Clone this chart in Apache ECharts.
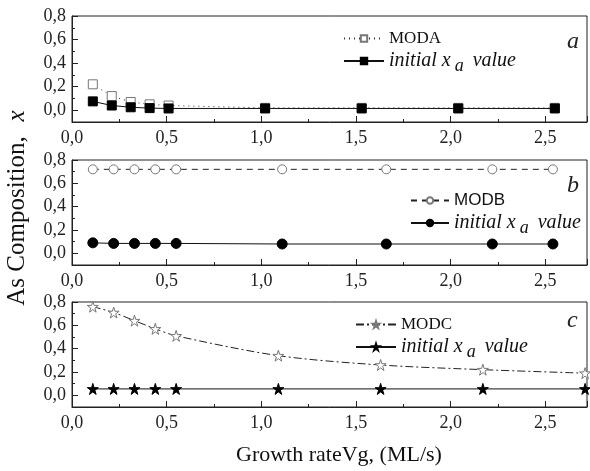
<!DOCTYPE html>
<html>
<head>
<meta charset="utf-8">
<script src="https://cdn.jsdelivr.net/npm/echarts@6/dist/echarts.min.js"></script>
<style>
    html, body { margin: 0; padding: 0; background: #fff; }
    #chart { width: 590px; height: 471px; }
</style>
</head>
<body>
<div id="chart"></div>
<script>
'use strict';

// panel a
var xA = [0.11, 0.21, 0.31, 0.41, 0.51, 1.02, 1.53, 2.04, 2.55];
var modaValues = [0.22, 0.12, 0.07, 0.05, 0.04, 0.02, 0.02, 0.02, 0.02];
var initAValues = [0.075, 0.04, 0.025, 0.018, 0.015, 0.015, 0.015, 0.015, 0.015];
// panel b
var xB = [0.11, 0.22, 0.33, 0.44, 0.55, 1.11, 1.66, 2.22, 2.54];
var modbValues = [0.72, 0.72, 0.72, 0.72, 0.72, 0.72, 0.72, 0.72, 0.72];
var initBValues = [0.09, 0.085, 0.085, 0.085, 0.085, 0.08, 0.08, 0.08, 0.08];
// panel c
var xC = [0.11, 0.22, 0.33, 0.44, 0.55, 1.09, 1.63, 2.17, 2.71];
var modcValues = [0.76, 0.71, 0.64, 0.57, 0.51, 0.34, 0.26, 0.22, 0.19];
var initCValues = [0.055, 0.055, 0.055, 0.055, 0.055, 0.055, 0.055, 0.055, 0.055];

var majorY = [0, 0.2, 0.4, 0.6, 0.8];

var serif = '"Liberation Serif", serif';
var star = 'path://M50,0 L61,35 L98,35 L68,57 L79,91 L50,70 L21,91 L32,57 L2,35 L39,35 Z';

function pairs(xs, ys) {
    var out = [];
    for (var i = 0; i < xs.length; i++) {
        out.push([xs[i], ys[i]]);
    }
    return out;
}

function comma(v) {
    return v.toFixed(1).replace('.', ',');
}

var grids = [
    {left: 72, right: 0, top: 16, height: 106},
    {left: 72, right: 0, top: 160, height: 105},
    {left: 72, right: 0, top: 302, height: 105}
];

var xAxes = [];
var yAxes = [];
for (var g = 0; g < 3; g++) {
    grids[g].show = true;
    grids[g].borderColor = '#222';
    grids[g].borderWidth = 1;
    xAxes.push({
        type: 'value',
        gridIndex: g,
        min: 0,
        max: 2.72,
        interval: 0.5,
        axisLine: {show: true, onZero: false, lineStyle: {color: '#222'}},
        axisTick: {show: true, inside: true, length: 6, lineStyle: {color: '#222'}},
        minorTick: {show: true, splitNumber: 2, length: 3, lineStyle: {color: '#222'}},
        splitLine: {show: false},
        axisLabel: {
            color: '#222',
            fontFamily: 'Liberation Serif',
            fontSize: 18,
            margin: 7,
            formatter: function (v) {
                var r = Math.round(v * 2) / 2;
                return Math.abs(r - v) < 1e-6 ? comma(v) : '';
            }
        }
    });
    // main y axis, ticks every 0.1
    yAxes.push({
        type: 'value',
        gridIndex: g,
        min: -0.1,
        max: 0.8,
        interval: 0.1,
        axisLine: {show: true, onZero: false, lineStyle: {color: '#222'}},
        axisTick: {show: true, inside: true, length: 3, lineStyle: {color: '#222'}},
        splitLine: {show: false},
        axisLabel: {
            color: '#222',
            fontFamily: 'Liberation Serif',
            fontSize: 18,
            margin: 6,
            formatter: function (v) {
                var k = Math.round(v * 10);
                return (k >= 0 && k % 2 === 0) ? comma(k / 10) : '';
            }
        }
    });
}
// longer ticks at the labelled values
for (var h = 0; h < 3; h++) {
    yAxes.push({
        type: 'value',
        gridIndex: h,
        min: -0.1,
        max: 0.8,
        position: 'left',
        axisLine: {show: false},
        axisTick: {show: true, inside: true, length: 6, customValues: majorY, lineStyle: {color: '#222'}},
        axisLabel: {show: false},
        splitLine: {show: false}
    });
}

function initLabel() {
    return '{i|initial x}{s|a}{i| value}';
}

var initRich = {
    i: {fontFamily: 'Liberation Serif', fontStyle: 'italic', fontSize: 20, color: '#111'},
    s: {fontFamily: 'Liberation Serif', fontStyle: 'italic', fontSize: 18, color: '#111', padding: [10, 4, 0, 4]}
};

var openStyle = {color: '#fff', borderColor: '#777', borderWidth: 1};
var fillStyle = {color: '#000', borderColor: '#000', borderWidth: 1};

function makeLegend(names, left, top, width, modFont) {
    return {
        data: names,
        orient: 'vertical',
        left: left,
        top: top,
        itemWidth: width,
        itemHeight: 8,
        itemGap: 4,
        formatter: function (name) {
            return name.indexOf('MOD') === 0 ? '{m|' + name + '}' : initLabel();
        },
        textStyle: {
            rich: {
                m: {fontFamily: modFont, fontSize: 17, color: '#111'},
                i: initRich.i,
                s: initRich.s
            }
        }
    };
}

var option = {
    animation: false,
    backgroundColor: '#fff',
    grid: grids,
    xAxis: xAxes,
    yAxis: yAxes,
    legend: [
        makeLegend(['MODA', 'initA'], 338, 25, 40, 'Liberation Serif'),
        makeLegend(['MODB', 'initB'], 405, 187, 38, 'Liberation Sans'),
        makeLegend(['MODC', 'initC'], 350, 311, 40, 'Liberation Serif')
    ],
    graphic: [
        {type: 'text', left: 567, top: 30, style: {text: 'a', font: 'italic 24px ' + serif, fill: '#222'}},
        {type: 'text', left: 567, top: 174, style: {text: 'b', font: 'italic 24px ' + serif, fill: '#222'}},
        {type: 'text', left: 567, top: 309, style: {text: 'c', font: 'italic 24px ' + serif, fill: '#222'}},
        {
            type: 'text',
            x: 5,
            y: 221,
            rotation: Math.PI / 2,
            style: {
                text: 'As Composition,',
                font: '25px ' + serif,
                fill: '#111',
                align: 'center',
                verticalAlign: 'top'
            }
        },
        {
            type: 'text',
            x: 5,
            y: 116,
            rotation: Math.PI / 2,
            style: {
                text: 'x',
                font: 'italic 25px ' + serif,
                fill: '#111',
                align: 'center',
                verticalAlign: 'top'
            }
        },
        {
            type: 'text',
            left: 236,
            top: 444,
            style: {text: 'Growth rateVg, (ML/s)', font: '22px ' + serif, fill: '#111'}
        }
    ],
    series: [
        {
            name: 'MODA', type: 'line', xAxisIndex: 0, yAxisIndex: 0,
            data: pairs(xA, modaValues),
            symbol: 'rect', symbolSize: 9,
            itemStyle: openStyle,
            lineStyle: {color: '#333', width: 1, type: [1, 4]},
            z: 2
        },
        {
            name: 'initA', type: 'line', xAxisIndex: 0, yAxisIndex: 0,
            data: pairs(xA, initAValues),
            symbol: 'rect', symbolSize: 9,
            itemStyle: fillStyle,
            lineStyle: {color: '#111', width: 1},
            z: 3
        },
        {
            name: 'MODB', type: 'line', xAxisIndex: 1, yAxisIndex: 1,
            data: pairs(xB, modbValues),
            symbol: 'circle', symbolSize: 9,
            itemStyle: openStyle,
            lineStyle: {color: '#222', width: 1, type: [6, 5]},
            z: 2
        },
        {
            name: 'initB', type: 'line', xAxisIndex: 1, yAxisIndex: 1,
            data: pairs(xB, initBValues),
            symbol: 'circle', symbolSize: 10,
            itemStyle: fillStyle,
            lineStyle: {color: '#111', width: 1},
            z: 3
        },
        {
            name: 'MODC', type: 'line', xAxisIndex: 2, yAxisIndex: 2,
            data: pairs(xC, modcValues),
            smooth: 0.3,
            symbol: star,
            symbolSize: 11,
            itemStyle: openStyle,
            lineStyle: {color: '#222', width: 1, type: [8, 3, 2, 3]},
            z: 2
        },
        {
            name: 'initC', type: 'line', xAxisIndex: 2, yAxisIndex: 2,
            data: pairs(xC, initCValues),
            symbol: star,
            symbolSize: 11,
            itemStyle: fillStyle,
            lineStyle: {color: '#111', width: 1},
            z: 3
        }
    ]
};

var chart = echarts.init(document.getElementById('chart'));
chart.setOption(option);
</script>
</body>
</html>
